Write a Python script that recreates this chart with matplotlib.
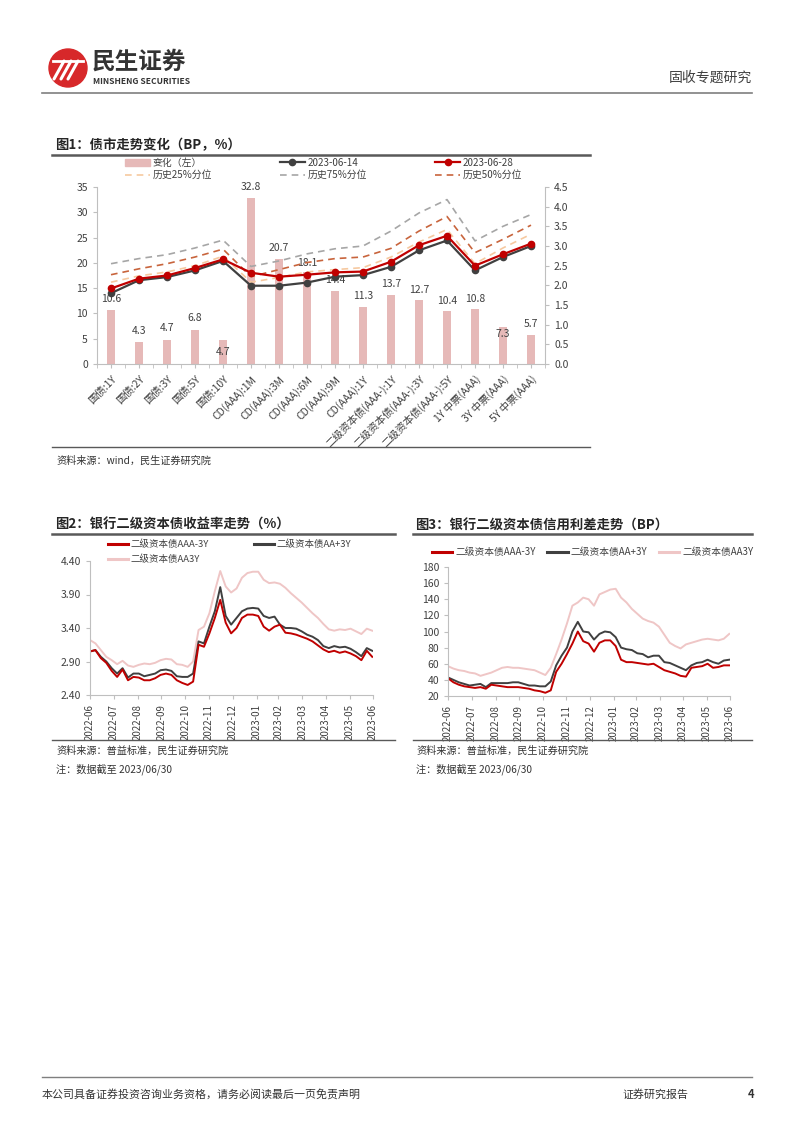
import numpy as np
import pandas as pd
import matplotlib
matplotlib.use("Agg")
from matplotlib import pyplot as plt
from matplotlib.patches import Circle, Patch
from matplotlib.lines import Line2D

plt.rcParams['font.family'] = ['Noto Sans CJK SC', 'DejaVu Sans']
plt.rcParams['axes.unicode_minus'] = False

# ---------------- data: chart 1 ----------------
categories = ["国债:1Y", "国债:2Y", "国债:3Y", "国债:5Y", "国债:10Y",
              "CD(AAA):1M", "CD(AAA):3M", "CD(AAA):6M", "CD(AAA):9M", "CD(AAA):1Y",
              "二级资本债(AAA-):1Y", "二级资本债(AAA-):3Y", "二级资本债(AAA-):5Y",
              "1Y 中票(AAA)", "3Y 中票(AAA)", "5Y 中票(AAA)"]
change_bp = [10.6, 4.3, 4.7, 6.8, 4.7, 32.8, 20.7, 18.1, 14.4, 11.3, 13.7, 12.7, 10.4, 10.8, 7.3, 5.7]
yield_0614 = [1.80, 2.13, 2.21, 2.38, 2.62, 1.99, 1.99, 2.07, 2.22, 2.26, 2.47, 2.89, 3.14, 2.38, 2.72, 3.00]
yield_0628 = [1.92, 2.17, 2.25, 2.44, 2.66, 2.32, 2.22, 2.27, 2.33, 2.35, 2.60, 3.02, 3.26, 2.50, 2.79, 3.06]
pct25 = [2.08, 2.24, 2.34, 2.50, 2.74, 2.08, 2.20, 2.34, 2.40, 2.45, 2.72, 3.10, 3.42, 2.55, 2.95, 3.30]
pct75 = [2.55, 2.68, 2.78, 2.95, 3.15, 2.48, 2.62, 2.80, 2.93, 3.00, 3.38, 3.84, 4.18, 3.13, 3.50, 3.80]
pct50 = [2.27, 2.42, 2.55, 2.72, 2.92, 2.22, 2.40, 2.58, 2.68, 2.72, 2.94, 3.38, 3.75, 2.83, 3.17, 3.53]

# ---------------- data: charts 2 & 3 (weekly) ----------------
weeks = pd.date_range("2022-06-30", periods=53, freq="7D")
ylds_aaa_minus = [3.05, 3.07, 2.95, 2.88, 2.76, 2.67, 2.78, 2.62, 2.67, 2.66, 2.62, 2.62, 2.65, 2.70,
                  2.72, 2.70, 2.62, 2.58, 2.55, 2.60, 3.15, 3.12, 3.32, 3.55, 3.82, 3.48, 3.32, 3.40,
                  3.55, 3.60, 3.60, 3.58, 3.42, 3.36, 3.42, 3.45, 3.33, 3.32, 3.30, 3.27, 3.24, 3.20,
                  3.14, 3.08, 3.04, 3.06, 3.03, 3.05, 3.02, 2.98, 2.92, 3.06, 2.97]
ylds_aa_plus = [3.05, 3.07, 2.97, 2.90, 2.80, 2.72, 2.80, 2.66, 2.72, 2.72, 2.68, 2.70, 2.72, 2.77,
                2.78, 2.76, 2.68, 2.67, 2.67, 2.72, 3.20, 3.17, 3.42, 3.65, 4.01, 3.58, 3.45, 3.55,
                3.65, 3.69, 3.70, 3.69, 3.58, 3.55, 3.57, 3.45, 3.40, 3.40, 3.39, 3.35, 3.30, 3.27,
                3.22, 3.13, 3.10, 3.13, 3.11, 3.12, 3.09, 3.04, 2.98, 3.10, 3.06]
ylds_aa = [3.22, 3.17, 3.07, 2.97, 2.92, 2.86, 2.91, 2.84, 2.82, 2.85, 2.87, 2.86, 2.88, 2.92,
           2.94, 2.93, 2.86, 2.85, 2.82, 2.90, 3.37, 3.42, 3.62, 3.95, 4.25, 4.02, 3.93, 3.99,
           4.15, 4.22, 4.24, 4.24, 4.12, 4.07, 4.08, 4.06, 4.00, 3.92, 3.85, 3.78, 3.70, 3.62,
           3.55, 3.46, 3.38, 3.36, 3.38, 3.37, 3.39, 3.35, 3.31, 3.39, 3.36]

sprd_aaa_minus = [42, 37, 34, 32, 31, 30, 31, 29, 34, 33, 32, 31, 31, 31, 30, 29, 27, 26, 24, 27,
                  50, 60, 72, 85, 100, 88, 85, 75, 86, 89, 89, 82, 65, 62, 62, 61, 60, 59, 60, 56,
                  52, 50, 48, 45, 44, 55, 56, 57, 60, 55, 56, 58, 58]
sprd_aa_plus = [43, 40, 37, 35, 33, 34, 35, 31, 36, 36, 36, 36, 37, 37, 35, 33, 33, 32, 32, 38,
                58, 70, 80, 100, 112, 100, 99, 90, 97, 100, 99, 93, 80, 78, 77, 73, 72, 68, 70, 70,
                62, 61, 58, 55, 52, 58, 61, 62, 65, 62, 60, 64, 65]
sprd_aa = [57, 54, 52, 51, 49, 48, 45, 47, 49, 52, 55, 56, 55, 55, 54, 53, 52, 49, 46, 55,
           72, 90, 110, 132, 136, 142, 140, 132, 146, 149, 152, 153, 142, 136, 128, 122, 116, 113,
           111, 106, 96, 86, 82, 79, 84, 86, 88, 90, 91, 90, 89, 91, 97]

month_ticks = pd.date_range("2022-06-30", "2023-06-30", freq="ME")

# ---------------- styles ----------------
RED = "#c00000"
DARK = "#404040"
PINK = "#e6b9b8"
LPINK = "#efc6c6"
C25 = "#f6c9a0"
C75 = "#a6a6a6"
C50 = "#c8643c"
AX = "#bfbfbf"
TXT = "#404040"

W, H = 802, 1133
fig = plt.figure(figsize=(W / 100, H / 100), dpi=100)


def rect(l, t, r, b):
    return [l / W, 1 - b / H, (r - l) / W, (b - t) / H]


def fxy(x, y):
    return (x / W, 1 - y / H)


def ftext(x, y, s, **kw):
    fig.text(x / W, 1 - y / H, s, **kw)


def hline(x0, x1, y, color="#7f7f7f", lw=1.5):
    fig.add_artist(Line2D([x0 / W, x1 / W], [1 - y / H, 1 - y / H], color=color, lw=lw))


def style_axes(ax):
    ax.spines["top"].set_visible(False)
    for s in ["left", "right", "bottom"]:
        ax.spines[s].set_color(AX)
    ax.tick_params(colors=AX, labelcolor=TXT, labelsize=7.5, length=3)


# ---------------- header ----------------
logo = fig.add_axes(rect(48, 48, 88, 88))
logo.set_xlim(-1, 1)
logo.set_ylim(-1, 1)
logo.set_aspect("equal")
logo.axis("off")
logo.add_patch(Circle((0, 0), 0.95, color="#d7282a"))
for dx in [-0.45, -0.1, 0.25]:
    logo.plot([dx - 0.25, dx + 0.25], [-0.55, 0.35], color="white", lw=2.2, solid_capstyle="round")
logo.plot([-0.75, 0.75], [0.35, 0.35], color="white", lw=2.0)
ftext(92, 62, "民生证券", fontsize=17, fontweight="bold", color="#333333", va="center")
ftext(93, 81, "MINSHENG SECURITIES", fontsize=6.1, fontweight="bold", color="#333333", va="center")
ftext(752, 78, "固收专题研究", fontsize=10, color="#404040", ha="right", va="center")
hline(42, 752, 93, color="#7f7f7f", lw=1.2)

# ---------------- footer ----------------
hline(42, 752, 1077, color="#7f7f7f", lw=1.0)
ftext(42, 1094, "本公司具备证券投资咨询业务资格，请务必阅读最后一页免责声明", fontsize=7.9, color="#333333", va="center")
ftext(622, 1094, "证券研究报告", fontsize=7.9, color="#333333", va="center")
ftext(748, 1094, "4", fontsize=8, color="#333333", va="center", fontweight="bold")

# ---------------- chart 1 ----------------
ftext(55, 145, "图1：债市走势变化（BP，%）", fontsize=9.6, fontweight="bold", color="#262626", va="center")
hline(52, 590, 155, color="#595959", lw=1.8)

ax1 = fig.add_axes(rect(97, 187, 545, 364))
x = np.arange(len(categories))
ax1.bar(x, change_bp, width=0.32, color=PINK, zorder=1)
label_off = [11, 11, 12, 12, -12, 11, 11, 9, 11, 11, 11, 10, 10, 10, -7, 11]
for xi, v, off in zip(x, change_bp, label_off):
    ax1.annotate(f"{v}", (xi, v), xytext=(0, off), textcoords="offset pixels",
                 ha="center", va="center", fontsize=7.5, color=TXT)
ax1.set_ylim(0, 35)
ax1.set_yticks(np.arange(0, 36, 5))
ax1.set_xlim(-0.5, len(categories) - 0.5)
ax1.set_xticks(x)
ax1.set_xticklabels(categories, rotation=45, ha="right", rotation_mode="anchor", fontsize=7)
ax1.set_xticks(np.arange(-0.5, len(categories), 1), minor=True)
ax1.tick_params(axis="x", which="major", length=0, pad=4)
style_axes(ax1)
ax1.tick_params(axis="x", which="minor", length=3, colors=AX)
ax1.spines["right"].set_visible(False)

ax1r = ax1.twinx()
ax1r.plot(x, pct25, ls=(0, (4, 3)), color=C25, lw=1.2)
ax1r.plot(x, pct75, ls=(0, (4, 3)), color=C75, lw=1.2)
ax1r.plot(x, pct50, ls=(0, (4, 3)), color=C50, lw=1.2)
ax1r.plot(x, yield_0614, color=DARK, lw=1.6, marker="o", ms=4.5)
ax1r.plot(x, yield_0628, color=RED, lw=1.6, marker="o", ms=4.5)
ax1r.set_ylim(0, 4.5)
ax1r.set_yticks(np.arange(0, 4.51, 0.5))
ax1r.set_yticklabels([f"{v:.1f}" for v in np.arange(0, 4.51, 0.5)])
style_axes(ax1r)
ax1r.spines["left"].set_visible(False)
ax1r.spines["bottom"].set_visible(False)

handles = [Patch(color=PINK),
           Line2D([], [], ls=(0, (4, 3)), color=C25, lw=1.2),
           Line2D([], [], color=DARK, lw=1.6, marker="o", ms=4.5),
           Line2D([], [], ls=(0, (4, 3)), color=C75, lw=1.2),
           Line2D([], [], color=RED, lw=1.6, marker="o", ms=4.5),
           Line2D([], [], ls=(0, (4, 3)), color=C50, lw=1.2)]
labels = ["变化（左）", "历史25%分位", "2023-06-14", "历史75%分位", "2023-06-28", "历史50%分位"]
fig.legend(handles, labels, ncol=3, loc="center left", bbox_to_anchor=fxy(120, 169),
           frameon=False, fontsize=7.1, handlelength=2.5, handleheight=0.7, borderpad=0,
           columnspacing=6.9, labelspacing=0.25, handletextpad=0.3, labelcolor=TXT)

hline(52, 590, 447, color="#595959", lw=1.0)
ftext(56, 461, "资料来源：wind，民生证券研究院", fontsize=7.3, color="#333333", va="center")


# ---------------- charts 2 & 3 ----------------
def ts_axes(r):
    ax = fig.add_axes(r)
    style_axes(ax)
    ax.spines["right"].set_visible(False)
    ax.set_xlim(weeks[0], pd.Timestamp("2023-06-30"))
    ax.set_xticks(month_ticks)
    ax.set_xticklabels([d.strftime("%Y-%m") for d in month_ticks], rotation=90, fontsize=7)
    return ax


# chart 2
ftext(55, 525, "图2：银行二级资本债收益率走势（%）", fontsize=9.6, fontweight="bold", color="#262626", va="center")
hline(52, 395, 534, color="#595959", lw=1.8)
ax2 = ts_axes(rect(90, 561, 373, 695))
ax2.plot(weeks, ylds_aa, color=LPINK, lw=1.4)
ax2.plot(weeks, ylds_aa_plus, color=DARK, lw=1.4)
ax2.plot(weeks, ylds_aaa_minus, color=RED, lw=1.4)
ax2.set_ylim(2.40, 4.40)
ax2.set_yticks([2.40, 2.90, 3.40, 3.90, 4.40])
ax2.set_yticklabels(["2.40", "2.90", "3.40", "3.90", "4.40"])
h2 = [Line2D([], [], color=RED, lw=2.2), Line2D([], [], color=LPINK, lw=2.2), Line2D([], [], color=DARK, lw=2.2)]
l2 = ["二级资本债AAA-3Y", "二级资本债AA3Y", "二级资本债AA+3Y"]
fig.legend(h2, l2, ncol=2, loc="center left", bbox_to_anchor=fxy(103, 552), frameon=False,
           fontsize=6.8, handlelength=2.1, columnspacing=4.8, labelspacing=0.6, handletextpad=0.3,
           borderpad=0, labelcolor=TXT)
hline(52, 395, 740, color="#595959", lw=1.0)
ftext(56, 751, "资料来源：普益标准，民生证券研究院", fontsize=7.3, color="#333333", va="center")
ftext(56, 769, "注：数据截至 2023/06/30", fontsize=7.3, color="#333333", va="center")

# chart 3
ftext(415, 526, "图3：银行二级资本债信用利差走势（BP）", fontsize=9.6, fontweight="bold", color="#262626", va="center")
hline(413, 752, 534, color="#595959", lw=1.8)
ax3 = ts_axes(rect(448, 567, 730, 696))
ax3.plot(weeks, sprd_aa, color=LPINK, lw=1.4)
ax3.plot(weeks, sprd_aa_plus, color=DARK, lw=1.4)
ax3.plot(weeks, sprd_aaa_minus, color=RED, lw=1.4)
ax3.set_ylim(20, 180)
ax3.set_yticks(np.arange(20, 181, 20))
h3 = [Line2D([], [], color=RED, lw=2.2), Line2D([], [], color=DARK, lw=2.2), Line2D([], [], color=LPINK, lw=2.2)]
l3 = ["二级资本债AAA-3Y", "二级资本债AA+3Y", "二级资本债AA3Y"]
fig.legend(h3, l3, ncol=3, loc="center left", bbox_to_anchor=fxy(427, 552), frameon=False,
           fontsize=7.0, handlelength=2.1, columnspacing=1.2, handletextpad=0.3, borderpad=0,
           labelcolor=TXT)
hline(413, 752, 740, color="#595959", lw=1.0)
ftext(416, 751, "资料来源：普益标准，民生证券研究院", fontsize=7.3, color="#333333", va="center")
ftext(416, 769, "注：数据截至 2023/06/30", fontsize=7.3, color="#333333", va="center")

fig.savefig("out.png", dpi=100, facecolor="white")
